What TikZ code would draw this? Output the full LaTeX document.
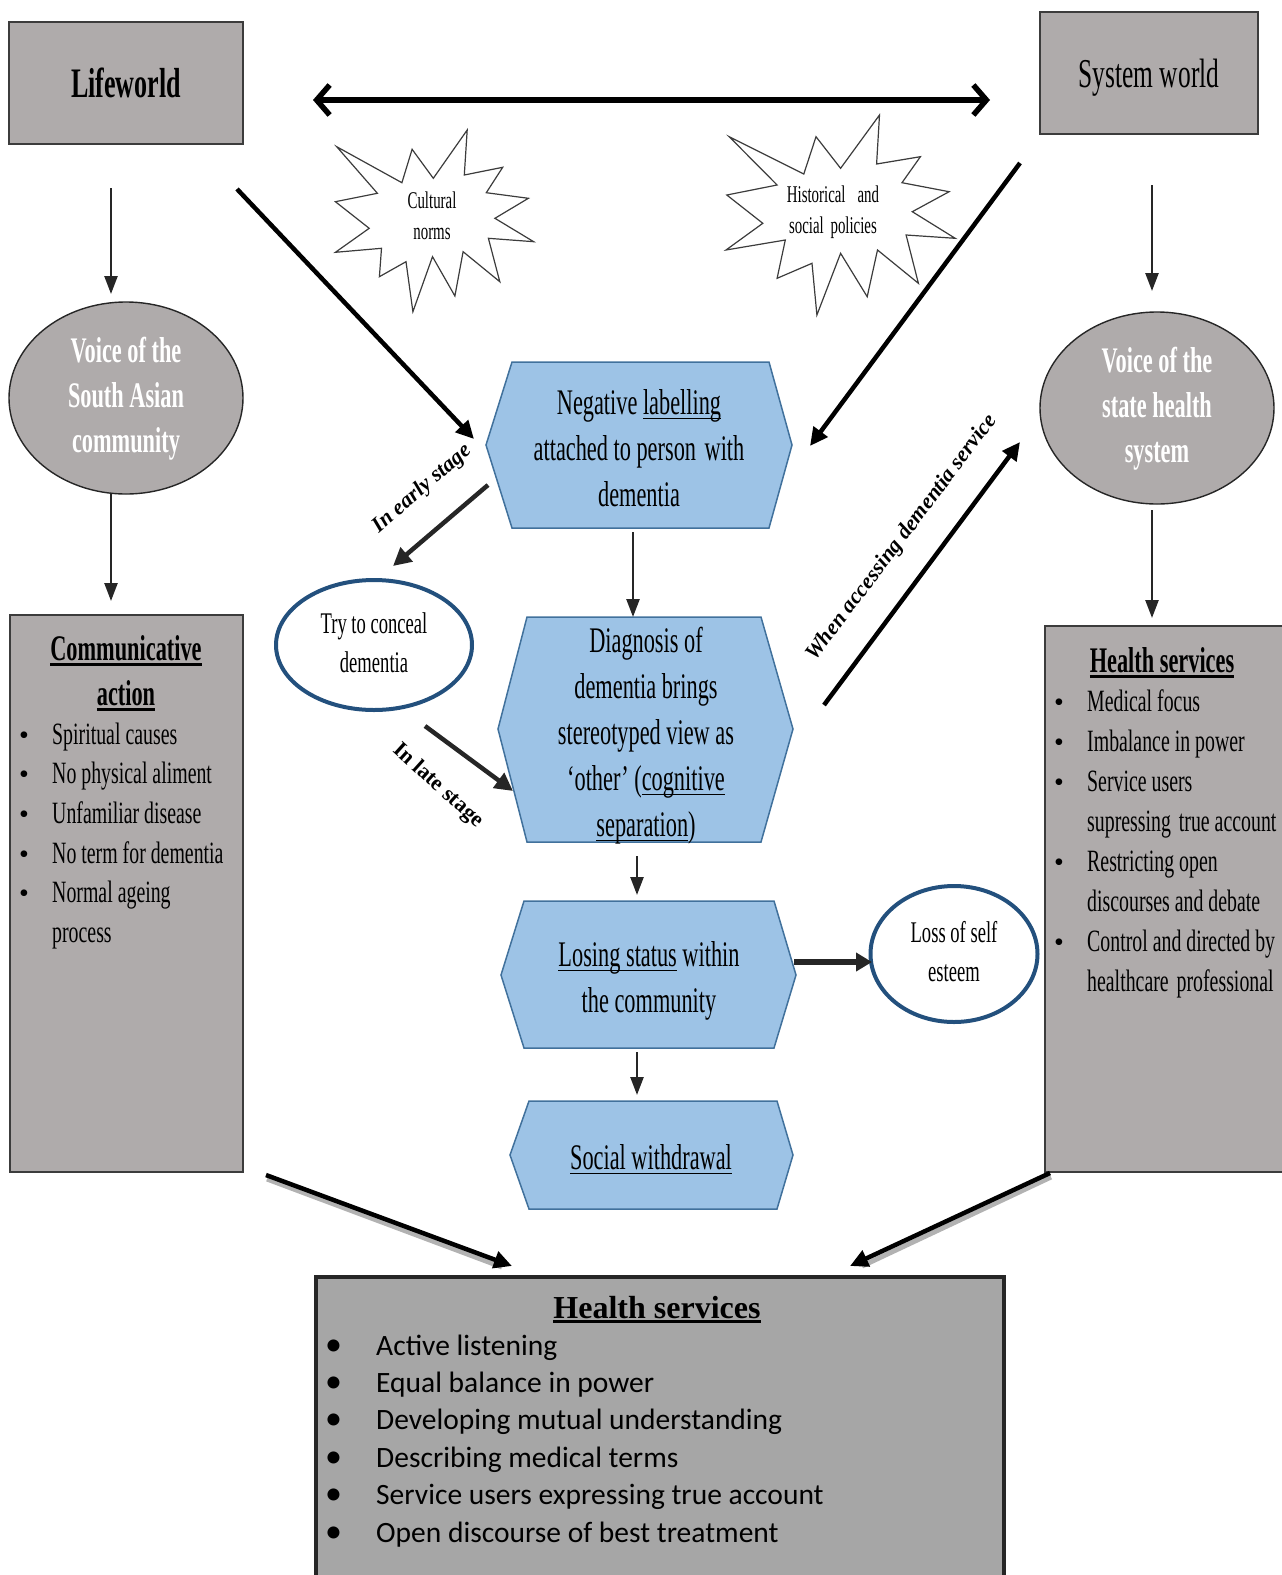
\documentclass[tikz,border=0pt]{standalone}
\usepackage{fontspec}
\setmainfont{Liberation Serif}
\newfontfamily\condfont[FakeStretch=0.62]{Liberation Serif}
\newfontfamily\listfont[FakeStretch=0.64]{Liberation Serif}
\newfontfamily\calibfont{Carlito}
\usetikzlibrary{arrows.meta,shapes.geometric}

\definecolor{boxgray}{RGB}{175,171,171}
\definecolor{botgray}{RGB}{166,166,166}
\definecolor{edgegray}{RGB}{60,60,60}
\definecolor{hexblue}{RGB}{157,195,230}
\definecolor{hexedge}{RGB}{65,113,156}
\definecolor{ringblue}{RGB}{35,80,125}
\definecolor{darkline}{RGB}{38,38,38}

% underline with chosen depth and thickness
\newcommand\ulbox[3]{\setbox0=\hbox{#3}\rlap{\rule[-#1]{\wd0}{#2}}\box0\relax}
\newcommand\ulthick[1]{\ulbox{6pt}{2.6pt}{#1}}
\newcommand\ulthin[1]{\ulbox{5pt}{1.4pt}{#1}}
\newcommand\lnstrut{\strut}
\newcommand\listdot{\makebox[33pt][l]{\rmfamily\fontsize{28}{28}\selectfont\textbullet}}

\begin{document}
\begin{tikzpicture}[x=1pt,y=-1pt,
  graybox/.style={draw=edgegray, line width=1.4pt, fill=boxgray, inner sep=0pt},
  voice/.style={ellipse, draw=darkline, line width=1.4pt, fill=boxgray, inner sep=0pt,
    minimum width=234pt, minimum height=192pt, text=white, align=center,
    font=\condfont\bfseries\fontsize{36}{45}\selectfont},
  hexshape/.style={draw=hexedge, line width=1.5pt, fill=hexblue},
  hextext/.style={align=center, inner sep=0pt, font=\condfont\fontsize{36}{46}\selectfont},
  ring/.style={ellipse, draw=ringblue, line width=4pt, fill=white, align=center, inner sep=0pt,
    font=\condfont\fontsize{30}{39}\selectfont},
  starburst/.style={draw=edgegray, line width=1.2pt, fill=white, line join=miter},
  startext/.style={align=center, inner sep=0pt, font=\condfont\fontsize{24}{31}\selectfont},
  vlink/.style={draw=darkline, line width=2.5pt, -{Triangle[length=18pt,width=13pt]}},
  blink/.style={draw=black, line width=4.5pt, -{Triangle[length=18pt,width=17pt]}},
  dlink/.style={draw=darkline, line width=4.5pt, -{Triangle[length=18pt,width=18pt]}},
  shade/.style={draw=black!30, line width=5pt},
  toparrow/.style={draw=black, line width=5.5pt,
    {Straight Barb[length=13pt,width=30pt]}-{Straight Barb[length=13pt,width=30pt]}},
  item/.style={anchor=base west, inner sep=0pt, font=\listfont\fontsize{31}{40}\selectfont},
  boxtitle/.style={anchor=base, inner sep=0pt, font=\condfont\bfseries\fontsize{36}{40}\selectfont},
  botitem/.style={anchor=base west, inner sep=0pt, font=\calibfont\fontsize{29.5}{34}\selectfont},
  stage/.style={inner sep=0pt, font=\rmfamily\bfseries\itshape\fontsize{22}{26}\selectfont},
  lateflag/.style={inner sep=0pt, font=\rmfamily\bfseries\fontsize{22}{26}\selectfont}]

\useasboundingbox (0,0) rectangle (1282,1575);

% ---------- the two worlds ----------
\node[graybox, minimum width=234pt, minimum height=122pt,
  font=\condfont\bfseries\fontsize{42}{50}\selectfont] (life) at (126,83) {Lifeworld};
\node[graybox, minimum width=218pt, minimum height=122pt, text depth=0pt,
  font=\condfont\fontsize{41}{50}\selectfont] (sysw) at (1149,73) {System world};

\coordinate (topL) at (313,100);
\coordinate (topR) at (990,100);
\draw[toparrow] (topL) -- (topR);

% ---------- starbursts ----------
\draw[starburst] (336.7,146.7) -- (401.9,182.7) -- (412.1,149.3) -- (433.3,178.3) -- (467.2,130)
  -- (464.3,175) -- (502.7,167.3) -- (486.3,192.7) -- (528.4,198.3) -- (494.9,218.3)
  -- (533.7,241.7) -- (488.4,238.3) -- (499.8,281.7) -- (463.1,251.7) -- (454.9,296)
  -- (432.5,256.7) -- (412.9,311.7) -- (406,261.7) -- (379.4,276.7) -- (381.5,248.3)
  -- (335.4,252.3) -- (369.2,228.3) -- (335.4,201.7) -- (377.4,193.3) -- cycle;
\node[startext] (cult) at (432,218) {\lnstrut Cultural\\\lnstrut norms};

\draw[starburst] (729.2,136.7) -- (803.8,174) -- (816,136.7) -- (840.6,168.3) -- (879.5,115)
  -- (876.6,164) -- (920.4,156.7) -- (902,182.7) -- (949.1,191.7) -- (912.3,211.7)
  -- (955.2,238.3) -- (906.1,235) -- (918.4,283.3) -- (877.5,250) -- (867.2,296.7)
  -- (840.6,253.3) -- (816.9,315) -- (812,263.3) -- (777.1,278.3) -- (785.3,240)
  -- (726,250) -- (762.8,223.3) -- (726.8,195) -- (777.1,185) -- cycle;
\node[startext] (hist) at (833,212) {\lnstrut Historical\hspace{12pt}and\\\lnstrut social\hspace{3pt} policies};

% ---------- voices ----------
\node[voice] (vsa) at (126,398) {\lnstrut Voice of the\\\lnstrut South Asian\\\lnstrut community};
\node[voice] (vsh) at (1157,408) {\lnstrut Voice of the\\\lnstrut state health\\\lnstrut system};

% ---------- side boxes ----------
\node[graybox, minimum width=233pt, minimum height=557pt] (cabox) at (126.5,893.5) {};
\node[boxtitle] (catitle) at (126,660) {\ulthick{Communicative}};
\node[boxtitle] (catitleb) at (126,705) {\ulthick{action}};
\foreach \t [count=\i] in {Spiritual causes, No physical aliment, Unfamiliar disease,
    No term for dementia, Normal ageing}
  \node[item] (ca\i) at (19,{744+(\i-1)*39.7}) {\listdot\t};
\node[item] (ca6) at (52,942.5) {process};

\node[graybox, minimum width=245pt, minimum height=546pt] (hsbox) at (1167.5,899) {};
\node[boxtitle] (hstitle) at (1162,672) {\ulthick{Health services}};
\node[item] (hs1) at (1054,711) {\listdot Medical focus};
\node[item] (hs2) at (1054,751) {\listdot Imbalance in power};
\node[item] (hs3) at (1054,791) {\listdot Service users};
\node[item] (hs4) at (1087,831) {supressing\hspace{3pt} true account};
\node[item] (hs5) at (1054,871) {\listdot Restricting open};
\node[item] (hs6) at (1087,911) {discourses and debate};
\node[item] (hs7) at (1054,951) {\listdot Control and directed by};
\node[item] (hs8) at (1087,991) {healthcare\hspace{3pt} professional};

% ---------- central chain ----------
\draw[hexshape] (486,445) -- (512,362) -- (769,362) -- (792,445) -- (769,528) -- (512,528) -- cycle;
\node[hextext] (neg) at (639,451)
  {\lnstrut Negative \ulthin{labelling}\\\lnstrut attached to person\hspace{3pt} with\\\lnstrut dementia};

\draw[hexshape] (498,729) -- (527,617) -- (761,617) -- (793,729) -- (761,842) -- (527,842) -- cycle;
\node[hextext] (diag) at (646,735)
  {\lnstrut Diagnosis of\\\lnstrut dementia brings\\\lnstrut stereotyped view as\\
   \lnstrut ‘other’ (\ulthin{cognitive}\\\lnstrut \ulthin{separation})};

\draw[hexshape] (501,975) -- (524,901) -- (774,901) -- (796,975) -- (774,1048) -- (524,1048) -- cycle;
\node[hextext] (lose) at (649,980)
  {\lnstrut \ulthin{Losing status} within\\\lnstrut the community};

\draw[hexshape] (510,1155) -- (529,1101) -- (777,1101) -- (793,1155) -- (777,1209) -- (529,1209) -- cycle;
\node[hextext] (withd) at (651,1160) {\lnstrut \ulthin{Social withdrawal}};

\node[ring, minimum width=196pt, minimum height=130pt] (conceal) at (374,645)
  {\lnstrut Try to conceal\\\lnstrut dementia};
\node[ring, minimum width=167pt, minimum height=136pt] (esteem) at (954,954)
  {\lnstrut Loss of self\\\lnstrut esteem};

% ---------- bottom box ----------
\node[draw=darkline, line width=4pt, fill=botgray, minimum width=688pt, minimum height=323pt,
  inner sep=0pt] (hsbot) at (660,1438.5) {};
\node[anchor=base, inner sep=0pt, font=\rmfamily\bfseries\fontsize{32}{36}\selectfont]
  (bottitle) at (657,1318) {\ulbox{5pt}{2.6pt}{Health services}};
\foreach \t [count=\i] in {Active listening, Equal balance in power,
    Developing mutual understanding, Describing medical terms,
    Service users expressing true account, Open discourse of best treatment}
  \node[botitem] (hb\i) at (325,{1355+(\i-1)*37.4})
    {\makebox[51pt][l]{\fontsize{34}{34}\selectfont\textbullet}\t};

% ---------- connectors ----------
\coordinate (lwA) at (111,188);   \coordinate (lwB) at (111,294);
\coordinate (saA) at (111,494);   \coordinate (saB) at (111,601);
\coordinate (swA) at (1152,185);  \coordinate (swB) at (1152,291);
\coordinate (shA) at (1152,510);  \coordinate (shB) at (1152,618);
\draw[vlink] (lwA) -- (lwB);
\draw[vlink] (saA) -- (saB);
\draw[vlink] (swA) -- (swB);
\draw[vlink] (shA) -- (shB);

\coordinate (lnA) at (237,189);   \coordinate (lnB) at (474,439);
\coordinate (snA) at (1020,163);  \coordinate (snB) at (810,446);
\draw[blink] (lnA) -- (lnB);
\draw[blink] (snA) -- (snB);

\coordinate (ndA) at (633,532);   \coordinate (ndB) at (633,617);
\coordinate (dlA) at (637,856);   \coordinate (dlB) at (637,895);
\coordinate (lsA) at (637,1052);  \coordinate (lsB) at (637,1095);
\draw[vlink] (ndA) -- (ndB);
\draw[vlink] (dlA) -- (dlB);
\draw[vlink] (lsA) -- (lsB);

\coordinate (ncA) at (488,485);   \coordinate (ncB) at (393,566);
\coordinate (cdA) at (425,726);   \coordinate (cdB) at (513,791);
\draw[dlink] (ncA) -- (ncB);
\draw[dlink] (cdA) -- (cdB);

\coordinate (dsA) at (824,705);   \coordinate (dsB) at (1020,442);
\draw[blink] (dsA) -- (dsB);

\coordinate (leA) at (794,962);   \coordinate (leB) at (872,962);
\draw[draw=darkline, line width=6pt, -{Triangle[length=16pt,width=18pt]}] (leA) -- (leB);

\coordinate (cbA) at (266,1175);  \coordinate (cbB) at (512,1266);
\coordinate (hbA) at (1050,1173); \coordinate (hbB) at (850,1266);
\draw[shade] ([shift={(1,4)}]cbA) -- ([shift={(-10,1)}]cbB);
\draw[shade] ([shift={(1,4)}]hbA) -- ([shift={(12,0)}]hbB);
\draw[blink] (cbA) -- (cbB);
\draw[blink] (hbA) -- (hbB);

% ---------- connector labels ----------
\node[stage, rotate=41] (early) at (422,489) {In early stage};
\node[lateflag, rotate=-42] (late) at (438,786) {In late stage};
\node[stage, rotate=53] (access) at (902,538) {When accessing dementia service};

\end{tikzpicture}
\end{document}
